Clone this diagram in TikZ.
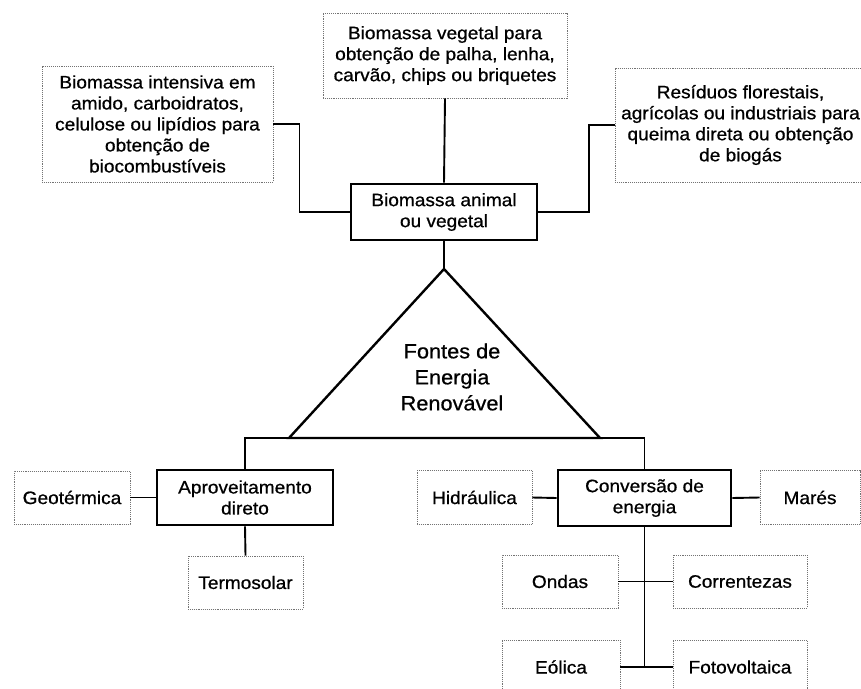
\documentclass[tikz,border=0pt]{standalone}
\usepackage{fontspec}
\setmainfont{Liberation Sans}[FakeStretch=1.06,FakeBold=0.7]
\begin{document}
\begin{tikzpicture}[x=1pt,y=-1pt,
  every node/.style={font=\fontsize{18}{21}\selectfont, align=center, inner sep=0pt},
  softbox/.style={draw=black!55, densely dotted, line width=0.9pt},
  strongbox/.style={draw=black, line width=2.6pt},
  link/.style={draw=black, line width=1.9pt},
  tri/.style={draw=black, line width=2.4pt}]
\useasboundingbox (0,0) rectangle (861,688);
\clip (0,0) rectangle (861,688);
\fill[white] (0,0) rectangle (861,688);

% top level
\node[softbox, minimum width=244pt, minimum height=85pt] (top) at (445,55.5)
  {Biomassa vegetal para\\obtenção de palha, lenha,\\carvão, chips ou briquetes};
\node[softbox, minimum width=231pt, minimum height=116pt] (left) at (157.5,124)
  {Biomassa intensiva em\\amido, carboidratos,\\celulose ou lipídios para\\obtenção de\\biocombustíveis};
\node[softbox, minimum width=251pt, minimum height=114pt] (right) at (740.5,125)
  {Resíduos florestais,\\agrícolas ou industriais para\\queima direta ou obtenção\\de biogás};
\node[strongbox, minimum width=186pt, minimum height=56pt] (central) at (444,212)
  {Biomassa animal\\ou vegetal};

% triangle
\coordinate (apex) at (444,269);
\coordinate (bl) at (289,438);
\coordinate (br) at (600,438);
\draw[tri] (apex) -- (bl) -- (br) -- cycle;
\node[font=\fontsize{20.5}{26}\selectfont] (fontes) at (452,377) {Fontes de\\Energia\\Renovável};

% second level
\node[strongbox, minimum width=176pt, minimum height=55pt] (aprov) at (245,497.5)
  {Aproveitamento\\direto};
\node[strongbox, minimum width=173pt, minimum height=56pt] (conv) at (644.5,498)
  {Conversão de\\energia};
\node[softbox, minimum width=116pt, minimum height=53pt] (geo) at (72,497.5) {Geotérmica};
\node[softbox, minimum width=115pt, minimum height=53pt] (termo) at (245.5,582.5) {Termosolar};
\node[softbox, minimum width=115pt, minimum height=54pt] (hidr) at (474.5,497.5) {Hidráulica};
\node[softbox, minimum width=100pt, minimum height=54pt] (mares) at (810,497.5) {Marés};
\node[softbox, minimum width=116pt, minimum height=53pt] (ondas) at (560,581.5) {Ondas};
\node[softbox, minimum width=134pt, minimum height=53pt] (corr) at (740,581.5) {Correntezas};
\node[softbox, minimum width=118pt, minimum height=54pt] (eolica) at (561,667) {Eólica};
\node[softbox, minimum width=134pt, minimum height=54pt] (foto) at (740,667) {Fotovoltaica};

% connectors
\draw[link] (top.south) -- (central.north);
\draw[link] (left.east) -- ++(26,0) |- (central.west);
\draw[link] (central.east) -- ++(51,0) |- (right.west);
\draw[link] (central.south) -- (apex);
\draw[link] (aprov.north) -- (aprov.north |- bl) -- (conv.north |- bl) -- (conv.north);
\draw[link] (geo.east) -- (aprov.west);
\draw[link] (aprov.south) -- (termo.north);
\draw[link] (hidr.east) -- (conv.west);
\draw[link] (conv.east) -- (mares.west);
\draw[link] (conv.south) -- (conv.south |- foto.west);
\draw[link] (ondas.east) -- (corr.west);
\draw[link] (eolica.east) -- (foto.west);
\end{tikzpicture}
\end{document}
